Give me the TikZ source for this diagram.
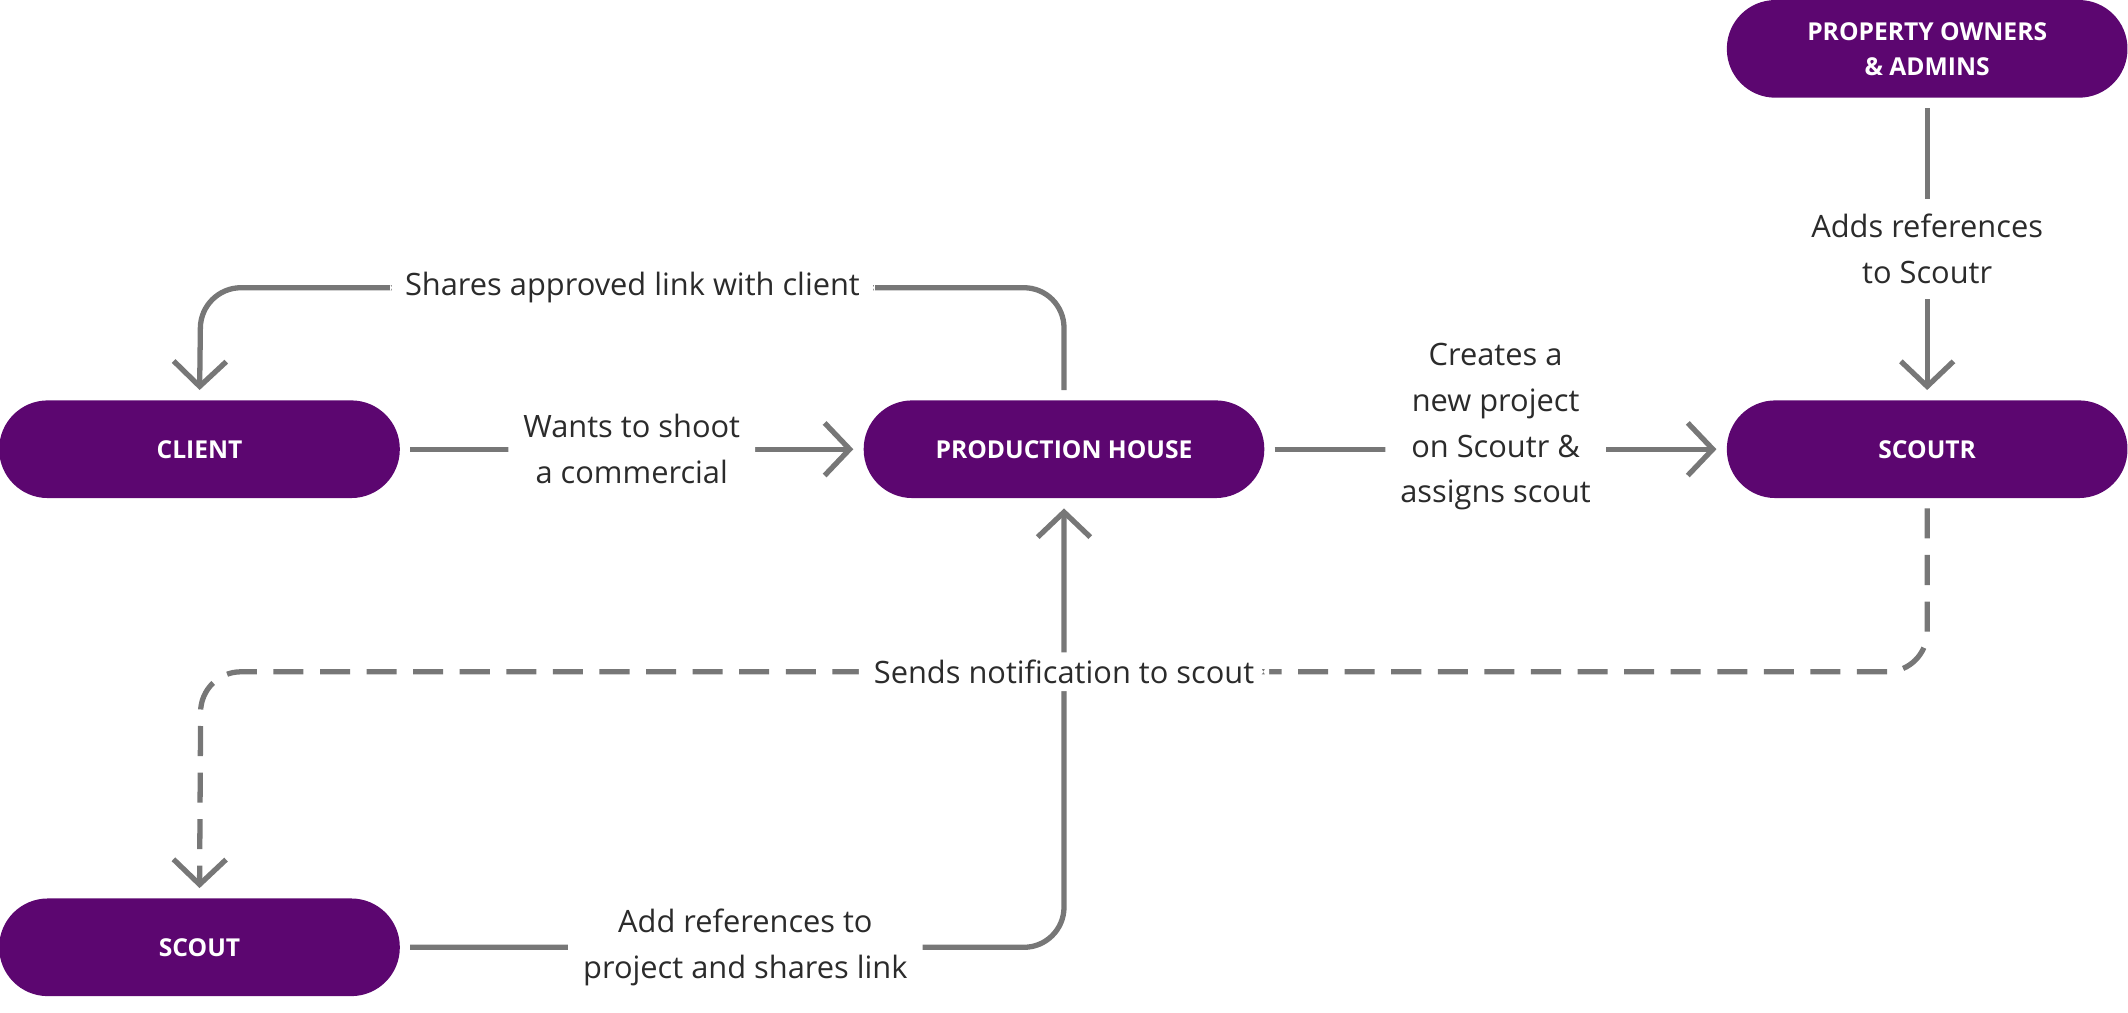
\documentclass[tikz,border=0pt]{standalone}
\usepackage{fontspec}
\setmainfont{Open Sans}
\usetikzlibrary{arrows.meta,positioning}
\definecolor{scoutpurple}{HTML}{5C0670}
\definecolor{flowgray}{HTML}{777777}
\definecolor{labelgray}{HTML}{2B2B2B}

\tikzset{
  party/.style={draw=none, fill=scoutpurple, text=white, rounded corners=0.97cm,
    minimum width=8cm, minimum height=1.95cm, align=center,
    font=\fontsize{14}{20}\selectfont\bfseries},
  flow/.style={draw=flowgray, line width=3pt, rounded corners=0.8cm,
    -{Straight Barb[length=0.5cm, width=1.05cm, line width=3pt]},
    shorten <=0.2cm, shorten >=0.2cm},
  lbl/.style={fill=white, text=labelgray, align=center, inner sep=0.3cm,
    font=\fontsize{17.5}{26}\selectfont},
}

\begin{document}
\begin{tikzpicture}[x=0.0271cm, y=-0.0271cm]
    \useasboundingbox (0,0) rectangle (1568,745.7);

    % Parties
    \node[party] (client) at (147,331) {CLIENT};
    \node[party] (house) at (784,331) {PRODUCTION HOUSE};
    \node[party] (scoutr) at (1420,331) {SCOUTR};
    \node[party] (owners) at (1420,36) {PROPERTY OWNERS\\\& ADMINS};
    \node[party] (scout) at (147,698) {SCOUT};

    % Bend points
    \coordinate (shareR) at (784,212);
    \coordinate (shareL) at (148,212);
    \coordinate (addR) at (784,698);
    \coordinate (notifyR) at (1420,495);
    \coordinate (notifyL) at (148,495);

    % Solid flows
    \draw[flow] (client) -- node[lbl] {Wants to shoot\\a commercial} (house);
    \draw[flow] (house) -- node[lbl, yshift=0.45cm] {Creates a\\new project\\on Scoutr \&\\assigns scout} (scoutr);
    \draw[flow] (owners) -- node[lbl] {Adds references\\to Scoutr} (scoutr);
    \draw[flow] (house.north) -- (shareR) -- node[lbl] {Shares approved link with client} (shareL) -- (client.north);
    \draw[flow] (scout.east) -- node[lbl, pos=0.52] {Add references to\\project and shares link} (addR) -- (house.south);

    % Dashed flow
    \draw[flow, dash pattern=on 0.6cm off 0.33cm] (scoutr.south) -- (notifyR) -- node[lbl, pos=0.5, inner ysep=0.15cm] {Sends notification to scout} (notifyL) -- (scout.north);
\end{tikzpicture}
\end{document}
